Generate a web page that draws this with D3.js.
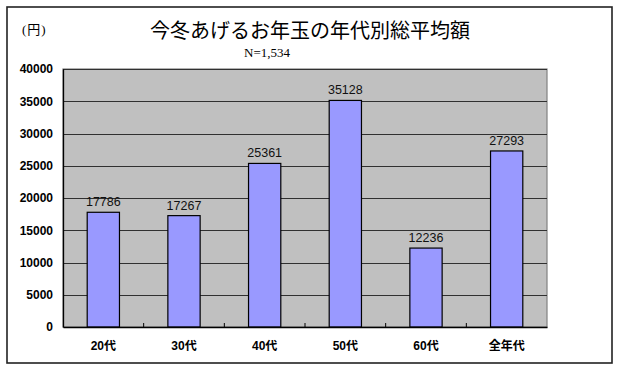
<!DOCTYPE html>
<html><head><meta charset="utf-8">
<script src="https://cdn.jsdelivr.net/npm/d3@7"></script>
<style>body{margin:0;background:#fff}svg{display:block}</style>
</head><body>
<script>
const categories = ["20代","30代","40代","50代","60代","全年代"];
const values = [17786,17267,25361,35128,12236,27293];
const yTicks = [0,5000,10000,15000,20000,25000,30000,35000,40000];
const title = "今冬あげるお年玉の年代別総平均額";
const subtitle = "N=1,534";
const unitLabel = "(円)";

const W = 624, H = 369;
const svg = d3.select("body").append("svg").attr("width", W).attr("height", H);
svg.append("rect").attr("x",7).attr("y",7).attr("width",605).attr("height",356)
  .attr("fill","#fff").attr("stroke","#222").attr("stroke-width",1.6);

const L = 63, R = 547, T = 69, B = 327;
const x = d3.scaleBand().domain(categories).range([L,R]).paddingInner(0.6).paddingOuter(0.3);
const xb = d3.scaleBand().domain(categories).range([L,R]);
const y = d3.scaleLinear().domain([0,40000]).range([B,T]);

svg.append("rect").attr("x",L).attr("y",T).attr("width",R-L).attr("height",B-T)
  .attr("fill","#c0c0c0").attr("stroke","#808080").attr("stroke-width",1.2);

// gridlines
svg.append("g").selectAll("line").data(yTicks.filter(d=>d>0)).join("line")
  .attr("x1",L).attr("x2",R).attr("y1",d=>Math.round(y(d))+0.5).attr("y2",d=>Math.round(y(d))+0.5)
  .attr("stroke","#303030").attr("stroke-width",1);

// y axis
const yAxis = svg.append("g").attr("transform",`translate(${L},0)`)
  .call(d3.axisLeft(y).tickValues(yTicks).tickSize(0).tickPadding(10).tickFormat(d3.format("d")));
yAxis.select(".domain").attr("stroke","#000").attr("stroke-width",1.3);
yAxis.selectAll("text").attr("font-family","'Liberation Sans',Arial,sans-serif")
  .attr("font-weight","bold").attr("font-size","12px").attr("fill","#000");

// bars
svg.append("g").selectAll("rect").data(values).join("rect")
  .attr("x",(d,i)=>x(categories[i])).attr("width",x.bandwidth())
  .attr("y",d=>y(d)).attr("height",d=>B-y(d))
  .attr("fill","#9999ff").attr("stroke","#000").attr("stroke-width",1.2);

// x axis
const xAxis = svg.append("g").attr("transform",`translate(0,${B})`)
  .call(d3.axisBottom(xb).tickSize(0).tickPadding(14));
xAxis.select(".domain").attr("stroke","#000").attr("stroke-width",1.3);
xAxis.selectAll("text").attr("font-family","'Liberation Sans','Noto Sans CJK JP',sans-serif")
  .attr("font-weight","bold").attr("font-size","12px").attr("fill","#000");
// inner category boundary ticks
svg.append("g").selectAll("line").data(categories.slice(1)).join("line")
  .attr("x1",d=>xb(d)).attr("x2",d=>xb(d)).attr("y1",B).attr("y2",B-4)
  .attr("stroke","#000").attr("stroke-width",1);

// data labels
svg.append("g").selectAll("text").data(values).join("text")
  .attr("x",(d,i)=>x(categories[i])+x.bandwidth()/2).attr("y",d=>y(d)-6)
  .attr("text-anchor","middle").attr("font-family","'Liberation Sans',Arial,sans-serif")
  .attr("font-size","12.5px").attr("font-weight","500").attr("fill","#111").text(d=>d);

svg.append("text").attr("x",310).attr("y",38).attr("text-anchor","middle")
  .attr("font-family","'Noto Sans CJK JP',sans-serif").attr("font-size","20px").attr("fill","#000").text(title);
svg.append("text").attr("x",267).attr("y",57).attr("text-anchor","middle")
  .attr("font-family","'Liberation Serif','Times New Roman',serif").attr("font-size","13px").attr("fill","#000").text(subtitle);
svg.append("text").attr("x",22).attr("y",34).attr("letter-spacing","1px")
  .attr("font-family","'Liberation Serif','Noto Sans CJK JP',serif").attr("font-size","13px").attr("fill","#000").text(unitLabel);
</script>
</body></html>
